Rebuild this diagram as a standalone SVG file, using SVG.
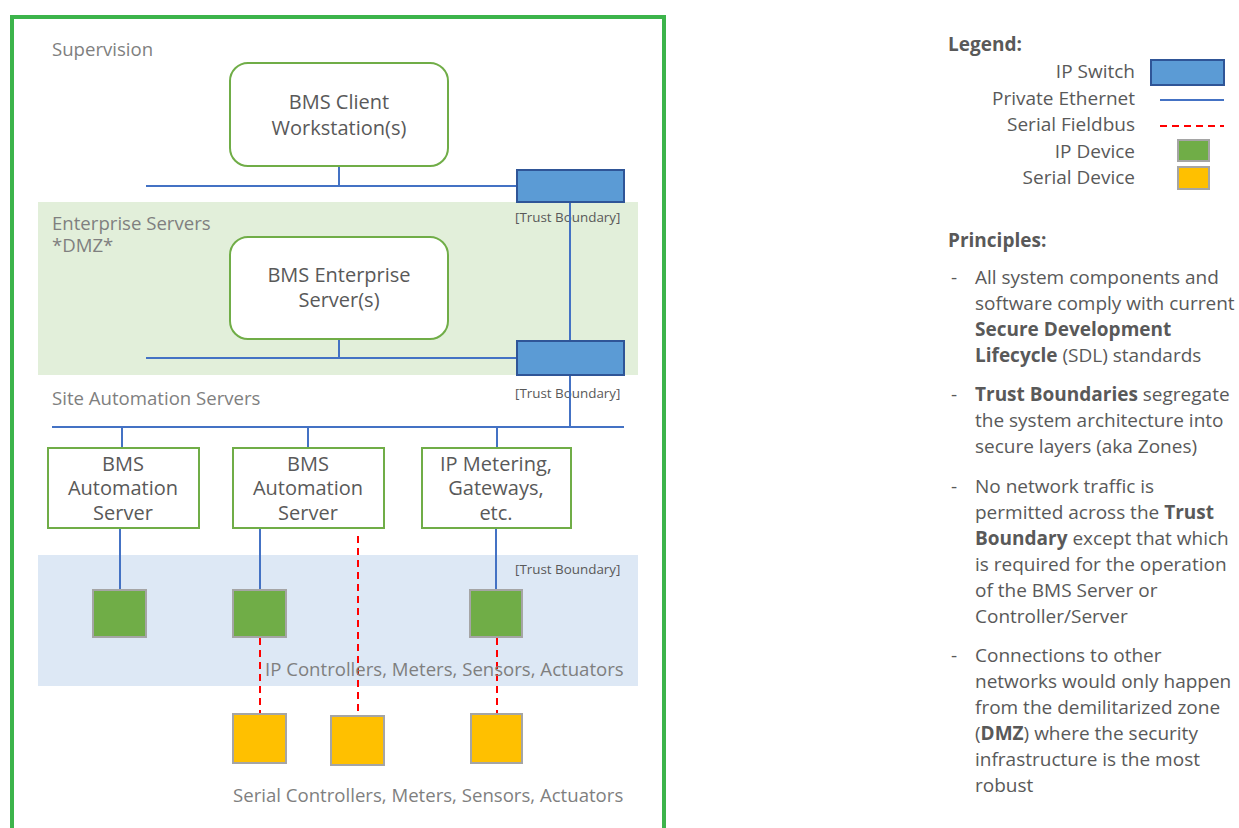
<svg xmlns="http://www.w3.org/2000/svg" width="1239" height="828" viewBox="0 0 1239 828">
<style>
text{font-family:"Open Sans","Liberation Sans",Arial,sans-serif;fill:#6f6f6f}
.zone{font-size:18.6px;fill:#7f7f7f}
.nt{font-size:20px;fill:#595959;text-anchor:middle}
.tb{font-size:13.4px;fill:#595959}
.lg{font-size:19px;fill:#595959;text-anchor:end}
.pr{font-size:19px;fill:#595959}
.b{font-weight:bold}
.rbox{fill:#fff;stroke:#70ad47;stroke-width:2}
.sbox{fill:#fff;stroke:#70ad47;stroke-width:2}
.sw{fill:#5b9bd5;stroke:#2f5597;stroke-width:2}
.ipd{fill:#70ad47;stroke:#a5a5a5;stroke-width:2}
.sd{fill:#ffc000;stroke:#a5a5a5;stroke-width:2}
.eth{stroke:#4472c4;stroke-width:2;fill:none}
.ser{stroke:#ff0000;stroke-width:2;stroke-dasharray:7,5;fill:none}
</style>
<rect width="1239" height="828" fill="#fff"/>
<rect x="12" y="17" width="652" height="830" fill="none" stroke="#3cb44b" stroke-width="4"/>
<rect x="38" y="202" width="600" height="173" fill="#e2efda"/>
<rect x="38" y="555" width="600" height="131" fill="#dde8f5"/>
<text class="zone" x="52" y="56">Supervision</text>
<text class="zone" x="52" y="230">Enterprise Servers</text>
<text class="zone" x="52" y="252">*DMZ*</text>
<text class="zone" x="52" y="405">Site Automation Servers</text>
<text class="tb" x="515" y="222">[Trust Boundary]</text>
<text class="tb" x="515" y="398">[Trust Boundary]</text>
<text class="tb" x="515" y="574">[Trust Boundary]</text>
<g id="connectors">
<path class="eth" d="M339 166V186M146 186H517"/>
<path class="eth" d="M570 202V341"/>
<path class="eth" d="M339 339V358M146 358H517"/>
<path class="eth" d="M570 375V427M52 427H624"/>
<path class="eth" d="M122 427V448M308 427V448M497 427V448"/>
<path class="eth" d="M120 528V590M260 528V590M496 528V590"/>
<path class="ser" d="M358 536V716M260 638V714M497 638V714"/>
</g>
<g id="switch1"><rect class="sw" x="517" y="170" width="107" height="32"/></g>
<g id="switch2"><rect class="sw" x="517" y="341" width="107" height="34"/></g>
<g id="client"><rect class="rbox" x="230" y="63" width="218" height="103" rx="18"/>
<text class="nt" x="339" y="109">BMS Client</text><text class="nt" x="339" y="135">Workstation(s)</text></g>
<g id="enterprise"><rect class="rbox" x="230" y="237" width="218" height="102" rx="18"/>
<text class="nt" x="339" y="282">BMS Enterprise</text><text class="nt" x="339" y="307">Server(s)</text></g>
<g id="as1"><rect class="sbox" x="48" y="448" width="151" height="80"/>
<text class="nt" x="123" y="471">BMS</text><text class="nt" x="123" y="495">Automation</text><text class="nt" x="123" y="520">Server</text></g>
<g id="as2"><rect class="sbox" x="233" y="448" width="151" height="80"/>
<text class="nt" x="308" y="471">BMS</text><text class="nt" x="308" y="495">Automation</text><text class="nt" x="308" y="520">Server</text></g>
<g id="ipm"><rect class="sbox" x="422" y="448" width="149" height="80"/>
<text class="nt" x="496" y="471">IP Metering,</text><text class="nt" x="496" y="495">Gateways,</text><text class="nt" x="496" y="520">etc.</text></g>
<g id="ipd1"><rect class="ipd" x="93" y="590" width="53" height="47"/></g>
<g id="ipd2"><rect class="ipd" x="233" y="590" width="53" height="47"/></g>
<g id="ipd3"><rect class="ipd" x="470" y="590" width="52" height="47"/></g>
<g id="sd1"><rect class="sd" x="233" y="714" width="53" height="49"/></g>
<g id="sd2"><rect class="sd" x="331" y="716" width="53" height="49"/></g>
<g id="sd3"><rect class="sd" x="471" y="714" width="51" height="49"/></g>
<text class="zone" x="265" y="676">IP Controllers, Meters, Sensors, Actuators</text>
<text class="zone" x="233" y="802">Serial Controllers, Meters, Sensors, Actuators</text>
<g id="legend">
<text class="pr b" x="948" y="51">Legend:</text>
<text class="lg" x="1135" y="78">IP Switch</text>
<text class="lg" x="1135" y="105">Private Ethernet</text>
<text class="lg" x="1135" y="131">Serial Fieldbus</text>
<text class="lg" x="1135" y="158">IP Device</text>
<text class="lg" x="1135" y="184">Serial Device</text>
<rect class="sw" x="1151" y="60" width="73" height="25"/>
<path class="eth" d="M1160 100H1224"/>
<path class="ser" d="M1160 126H1224"/>
<rect class="ipd" x="1178" y="140" width="31" height="21"/>
<rect class="sd" x="1178" y="167" width="31" height="22"/>
</g>
<g id="principles">
<text class="pr b" x="948" y="247">Principles:</text>
<text class="pr" x="951" y="284">-</text>
<text class="pr" x="975" y="284">All system components and</text>
<text class="pr" x="975" y="310">software comply with current</text>
<text class="pr b" x="975" y="336">Secure Development</text>
<text class="pr" x="975" y="362"><tspan class="b">Lifecycle</tspan> (SDL) standards</text>
<text class="pr" x="951" y="401">-</text>
<text class="pr" x="975" y="401"><tspan class="b">Trust Boundaries</tspan> segregate</text>
<text class="pr" x="975" y="427">the system architecture into</text>
<text class="pr" x="975" y="453">secure layers (aka Zones)</text>
<text class="pr" x="951" y="493">-</text>
<text class="pr" x="975" y="493">No network traffic is</text>
<text class="pr" x="975" y="519">permitted across the <tspan class="b">Trust</tspan></text>
<text class="pr" x="975" y="545"><tspan class="b">Boundary</tspan> except that which</text>
<text class="pr" x="975" y="571">is required for the operation</text>
<text class="pr" x="975" y="597">of the BMS Server or</text>
<text class="pr" x="975" y="623">Controller/Server</text>
<text class="pr" x="951" y="662">-</text>
<text class="pr" x="975" y="662">Connections to other</text>
<text class="pr" x="975" y="688">networks would only happen</text>
<text class="pr" x="975" y="714">from the demilitarized zone</text>
<text class="pr" x="975" y="740">(<tspan class="b">DMZ</tspan>) where the security</text>
<text class="pr" x="975" y="766">infrastructure is the most</text>
<text class="pr" x="975" y="792">robust</text>
</g>
</svg>
